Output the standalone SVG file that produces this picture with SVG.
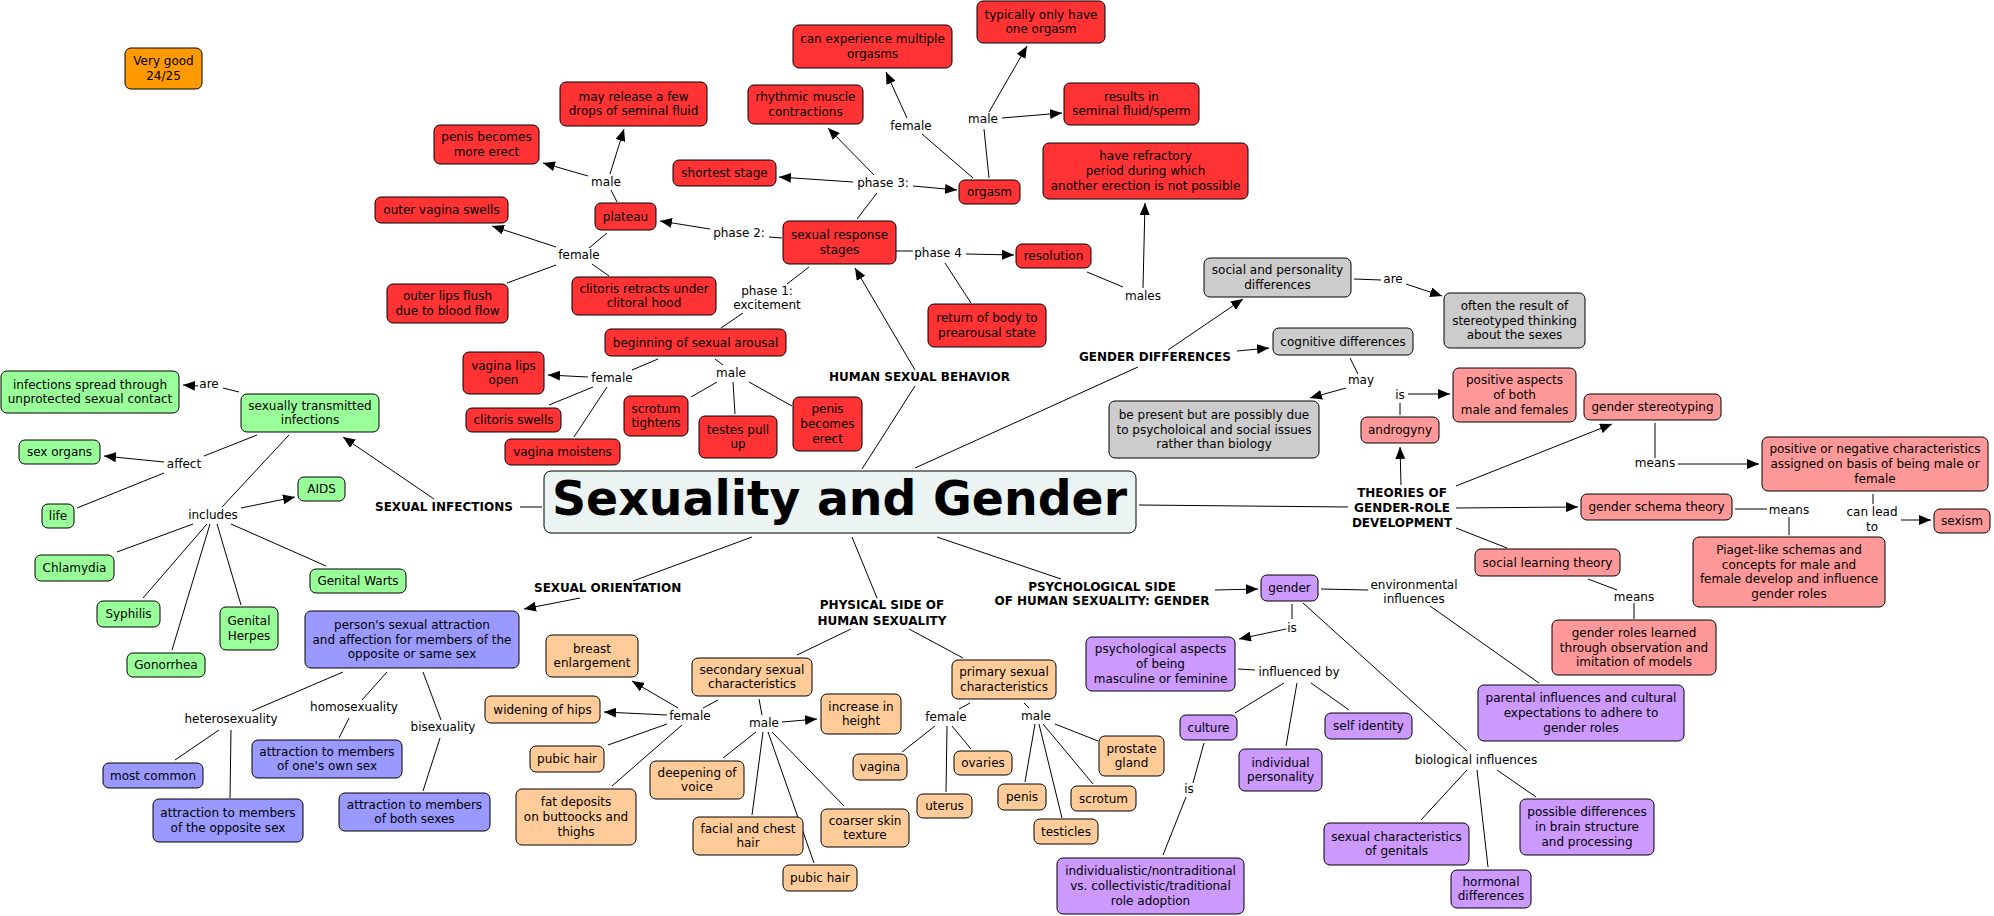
<svg xmlns="http://www.w3.org/2000/svg" width="1994" height="916" viewBox="0 0 1994 916">
<style>
g > rect{stroke:#000;stroke-width:1;}
.red{fill:#FF3333}.grn{fill:#99FF99}.blu{fill:#9999FF}.pch{fill:#FFCC99}.pur{fill:#CC99FF}.pnk{fill:#FF9999}.gry{fill:#CCCCCC}.org{fill:#FF9900}.ctr{fill:#EBF3F3}
text{font-family:"DejaVu Sans","Verdana",sans-serif;font-size:12px;fill:#000;text-anchor:middle}
.b{font-weight:bold}
.s{text-anchor:start}
#connectors line{stroke:#000;stroke-width:1}
#connectors line.a{marker-end:url(#arr)}
</style>
<defs>
<marker id="arr" viewBox="0 0 12 10" refX="12" refY="5" markerWidth="12" markerHeight="10" markerUnits="userSpaceOnUse" orient="auto"><path d="M0,0 L12,5 L0,10 z" fill="#000"/></marker>
</defs>
<rect x="0" y="0" width="1994" height="916" fill="#fff" style="stroke:none"/>
<g id="connectors">
<line x1="617" y1="202" x2="611" y2="190"/>
<line class="a" x1="588" y1="176" x2="543" y2="163"/>
<line class="a" x1="610" y1="174" x2="624" y2="129"/>
<line x1="782" y1="238" x2="769" y2="237"/>
<line class="a" x1="710" y1="229" x2="660" y2="221"/>
<line x1="607" y1="233" x2="589" y2="248"/>
<line class="a" x1="556" y1="247" x2="492" y2="226"/>
<line x1="556" y1="265" x2="507" y2="283"/>
<line x1="592" y1="264" x2="609" y2="276"/>
<line x1="857" y1="219" x2="877" y2="193"/>
<line class="a" x1="853" y1="182" x2="779" y2="177"/>
<line class="a" x1="874" y1="175" x2="828" y2="128"/>
<line class="a" x1="913" y1="186" x2="957" y2="190"/>
<line x1="973" y1="178" x2="922" y2="134"/>
<line class="a" x1="907" y1="118" x2="886" y2="72"/>
<line x1="989" y1="178" x2="984" y2="129"/>
<line class="a" x1="989" y1="112" x2="1027" y2="46"/>
<line class="a" x1="1002" y1="118" x2="1062" y2="113"/>
<line x1="896" y1="251" x2="913" y2="251"/>
<line class="a" x1="966" y1="254" x2="1014" y2="255"/>
<line x1="945" y1="263" x2="971" y2="303"/>
<line x1="809" y1="267" x2="787" y2="284"/>
<line x1="743" y1="313" x2="721" y2="328"/>
<line class="a" x1="915" y1="370" x2="855" y2="268"/>
<line x1="915" y1="386" x2="862" y2="469"/>
<line x1="1087" y1="272" x2="1123" y2="287"/>
<line class="a" x1="1143" y1="288" x2="1145" y2="203"/>
<line x1="1354" y1="279" x2="1381" y2="280"/>
<line class="a" x1="1406" y1="284" x2="1442" y2="296"/>
<line x1="915" y1="468" x2="1138" y2="367"/>
<line class="a" x1="1168" y1="350" x2="1243" y2="299"/>
<line class="a" x1="1237" y1="351" x2="1269" y2="348"/>
<line x1="1350" y1="358" x2="1358" y2="374"/>
<line class="a" x1="1346" y1="388" x2="1310" y2="398"/>
<line class="a" x1="1401" y1="485" x2="1400" y2="447"/>
<line x1="1400" y1="415" x2="1400" y2="403"/>
<line class="a" x1="1408" y1="394" x2="1450" y2="394"/>
<line x1="1139" y1="505" x2="1348" y2="507"/>
<line class="a" x1="1456" y1="486" x2="1612" y2="424"/>
<line class="a" x1="1456" y1="508" x2="1578" y2="507"/>
<line x1="1456" y1="528" x2="1507" y2="548"/>
<line x1="1655" y1="423" x2="1655" y2="458"/>
<line class="a" x1="1678" y1="464" x2="1759" y2="464"/>
<line x1="1735" y1="509" x2="1767" y2="509"/>
<line x1="1789" y1="517" x2="1789" y2="535"/>
<line x1="1873" y1="494" x2="1873" y2="504"/>
<line class="a" x1="1901" y1="520" x2="1931" y2="520"/>
<line x1="1588" y1="579" x2="1617" y2="590"/>
<line x1="1634" y1="603" x2="1634" y2="619"/>
<line x1="937" y1="537" x2="1061" y2="579"/>
<line class="a" x1="1215" y1="590" x2="1258" y2="589"/>
<line x1="1321" y1="589" x2="1368" y2="590"/>
<line x1="1430" y1="606" x2="1539" y2="683"/>
<line x1="1303" y1="603" x2="1467" y2="751"/>
<line x1="1292" y1="604" x2="1292" y2="619"/>
<line class="a" x1="1286" y1="629" x2="1239" y2="639"/>
<line x1="1238" y1="669" x2="1255" y2="670"/>
<line x1="1284" y1="683" x2="1235" y2="713"/>
<line x1="1297" y1="683" x2="1286" y2="746"/>
<line x1="1311" y1="683" x2="1349" y2="710"/>
<line x1="1204" y1="743" x2="1193" y2="783"/>
<line x1="1186" y1="797" x2="1163" y2="855"/>
<line x1="1467" y1="770" x2="1421" y2="820"/>
<line x1="1477" y1="770" x2="1488" y2="867"/>
<line x1="1497" y1="770" x2="1536" y2="797"/>
<line x1="970" y1="703" x2="959" y2="709"/>
<line x1="1024" y1="703" x2="1029" y2="708"/>
<line x1="1055" y1="724" x2="1098" y2="741"/>
<line x1="1035" y1="724" x2="1025" y2="782"/>
<line x1="1039" y1="724" x2="1062" y2="818"/>
<line x1="1043" y1="724" x2="1093" y2="784"/>
<line x1="935" y1="726" x2="902" y2="752"/>
<line x1="947" y1="726" x2="946" y2="792"/>
<line x1="952" y1="726" x2="971" y2="749"/>
<line x1="851" y1="629" x2="797" y2="655"/>
<line x1="909" y1="629" x2="963" y2="658"/>
<line x1="852" y1="537" x2="877" y2="598"/>
<line x1="718" y1="700" x2="703" y2="708"/>
<line class="a" x1="678" y1="708" x2="632" y2="681"/>
<line class="a" x1="667" y1="715" x2="604" y2="712"/>
<line x1="667" y1="724" x2="608" y2="745"/>
<line x1="682" y1="725" x2="612" y2="786"/>
<line x1="759" y1="699" x2="762" y2="715"/>
<line class="a" x1="782" y1="722" x2="817" y2="719"/>
<line x1="756" y1="732" x2="723" y2="758"/>
<line x1="763" y1="732" x2="752" y2="815"/>
<line x1="768" y1="732" x2="814" y2="863"/>
<line x1="772" y1="732" x2="844" y2="806"/>
<line x1="752" y1="537" x2="633" y2="581"/>
<line class="a" x1="580" y1="598" x2="524" y2="609"/>
<line x1="343" y1="672" x2="252" y2="711"/>
<line x1="219" y1="730" x2="175" y2="760"/>
<line x1="231" y1="730" x2="230" y2="798"/>
<line x1="387" y1="672" x2="362" y2="700"/>
<line x1="349" y1="718" x2="339" y2="738"/>
<line x1="423" y1="672" x2="441" y2="720"/>
<line x1="440" y1="738" x2="423" y2="791"/>
<line x1="239" y1="392" x2="223" y2="388"/>
<line class="a" x1="198" y1="386" x2="183" y2="385"/>
<line x1="257" y1="435" x2="204" y2="456"/>
<line class="a" x1="164" y1="462" x2="104" y2="456"/>
<line x1="164" y1="473" x2="77" y2="508"/>
<line x1="289" y1="435" x2="222" y2="507"/>
<line class="a" x1="241" y1="508" x2="295" y2="497"/>
<line x1="193" y1="524" x2="117" y2="552"/>
<line x1="207" y1="524" x2="143" y2="598"/>
<line x1="210" y1="524" x2="172" y2="650"/>
<line x1="217" y1="524" x2="241" y2="605"/>
<line x1="231" y1="524" x2="326" y2="566"/>
<line class="a" x1="434" y1="499" x2="343" y2="437"/>
<line x1="520" y1="507" x2="542" y2="507"/>
<line x1="658" y1="359" x2="632" y2="370"/>
<line class="a" x1="588" y1="377" x2="548" y2="375"/>
<line x1="593" y1="387" x2="549" y2="405"/>
<line x1="607" y1="387" x2="574" y2="437"/>
<line x1="715" y1="359" x2="723" y2="365"/>
<line x1="717" y1="382" x2="691" y2="397"/>
<line x1="733" y1="382" x2="735" y2="414"/>
<line x1="749" y1="382" x2="792" y2="406"/>
</g>
<g id="labels">
<text x="606" y="186">male</text>
<text x="911" y="130">female</text>
<text x="983" y="123">male</text>
<text x="883" y="187">phase 3:</text>
<text x="739" y="237">phase 2:</text>
<text x="579" y="259">female</text>
<text x="938" y="257">phase 4</text>
<text x="767" y="295">phase 1:</text>
<text x="767" y="309">excitement</text>
<text x="1143" y="300">males</text>
<text x="1393" y="283">are</text>
<text x="209" y="388">are</text>
<text x="184" y="468">affect</text>
<text x="213" y="519">includes</text>
<text x="612" y="382">female</text>
<text x="731" y="377">male</text>
<text x="1361" y="384">may</text>
<text x="1400" y="399">is</text>
<text x="1655" y="467">means</text>
<text x="1789" y="514">means</text>
<text x="1872" y="516">can lead</text>
<text x="1872" y="531">to</text>
<text x="1634" y="601">means</text>
<text x="1414" y="589">environmental</text>
<text x="1414" y="603">influences</text>
<text x="1292" y="632">is</text>
<text x="1299" y="676">influenced by</text>
<text x="1189" y="793">is</text>
<text x="1476" y="764">biological influences</text>
<text x="231" y="723">heterosexuality</text>
<text x="354" y="711">homosexuality</text>
<text x="443" y="731">bisexuality</text>
<text x="690" y="720">female</text>
<text x="764" y="727">male</text>
<text x="946" y="721">female</text>
<text x="1036" y="720">male</text>
<text class="b s" x="375" y="511">SEXUAL INFECTIONS</text>
<text class="b s" x="829" y="381">HUMAN SEXUAL BEHAVIOR</text>
<text class="b s" x="1079" y="361">GENDER DIFFERENCES</text>
<text class="b" x="1402" y="497">THEORIES OF</text>
<text class="b" x="1402" y="512">GENDER-ROLE</text>
<text class="b" x="1402" y="527">DEVELOPMENT</text>
<text class="b s" x="534" y="592">SEXUAL ORIENTATION</text>
<text class="b" x="882" y="609">PHYSICAL SIDE OF</text>
<text class="b" x="882" y="625">HUMAN SEXUALITY</text>
<text class="b" x="1102" y="591">PSYCHOLOGICAL SIDE</text>
<text class="b" x="1102" y="605">OF HUMAN SEXUALITY: GENDER</text>
</g>
<g id="verygood"><rect class="org" x="125" y="48" width="77" height="41" rx="6"/><text x="163.5" y="65.2">Very good</text><text x="163.5" y="79.8">24/25</text></g>
<g id="penis-more-erect"><rect class="red" x="434" y="125" width="105" height="39" rx="6"/><text x="486.5" y="141.2">penis becomes</text><text x="486.5" y="155.8">more erect</text></g>
<g id="may-release"><rect class="red" x="560" y="82" width="147" height="44" rx="6"/><text x="633.5" y="100.7">may release a few</text><text x="633.5" y="115.3">drops of seminal fluid</text></g>
<g id="can-experience"><rect class="red" x="793" y="25" width="159" height="43" rx="6"/><text x="872.5" y="43.2">can experience multiple</text><text x="872.5" y="57.8">orgasms</text></g>
<g id="typically"><rect class="red" x="977" y="1" width="128" height="42" rx="6"/><text x="1041" y="18.7">typically only have</text><text x="1041" y="33.3">one orgasm</text></g>
<g id="rhythmic"><rect class="red" x="748" y="85" width="115" height="39" rx="6"/><text x="805.5" y="101.2">rhythmic muscle</text><text x="805.5" y="115.8">contractions</text></g>
<g id="results"><rect class="red" x="1064" y="83" width="135" height="42" rx="6"/><text x="1131.5" y="100.7">results in</text><text x="1131.5" y="115.3">seminal fluid/sperm</text></g>
<g id="shortest"><rect class="red" x="673" y="160" width="103" height="26" rx="6"/><text x="724.5" y="177">shortest stage</text></g>
<g id="orgasm"><rect class="red" x="959" y="180" width="61" height="24" rx="6"/><text x="989.5" y="196">orgasm</text></g>
<g id="refractory"><rect class="red" x="1043" y="143" width="205" height="56" rx="6"/><text x="1145.5" y="160.4">have refractory</text><text x="1145.5" y="175">period during which</text><text x="1145.5" y="189.6">another erection is not possible</text></g>
<g id="plateau"><rect class="red" x="595" y="203" width="61" height="27" rx="6"/><text x="625.5" y="220.5">plateau</text></g>
<g id="sexual-response"><rect class="red" x="783" y="221" width="113" height="43" rx="6"/><text x="839.5" y="239.2">sexual response</text><text x="839.5" y="253.8">stages</text></g>
<g id="outer-vagina"><rect class="red" x="375" y="197" width="133" height="26" rx="6"/><text x="441.5" y="214">outer vagina swells</text></g>
<g id="outer-lips"><rect class="red" x="387" y="284" width="121" height="39" rx="6"/><text x="447.5" y="300.2">outer lips flush</text><text x="447.5" y="314.8">due to blood flow</text></g>
<g id="clitoris-retracts"><rect class="red" x="572" y="277" width="144" height="38" rx="6"/><text x="644" y="292.7">clitoris retracts under</text><text x="644" y="307.3">clitoral hood</text></g>
<g id="resolution"><rect class="red" x="1016" y="244" width="75" height="24" rx="6"/><text x="1053.5" y="260">resolution</text></g>
<g id="return-body"><rect class="red" x="928" y="304" width="118" height="43" rx="6"/><text x="987" y="322.2">return of body to</text><text x="987" y="336.8">prearousal state</text></g>
<g id="social-personality"><rect class="gry" x="1204" y="258" width="147" height="39" rx="6"/><text x="1277.5" y="274.2">social and personality</text><text x="1277.5" y="288.8">differences</text></g>
<g id="often-result"><rect class="gry" x="1444" y="293" width="141" height="55" rx="6"/><text x="1514.5" y="309.9">often the result of</text><text x="1514.5" y="324.5">stereotyped thinking</text><text x="1514.5" y="339.1">about the sexes</text></g>
<g id="beginning"><rect class="red" x="605" y="329" width="181" height="27" rx="6"/><text x="695.5" y="346.5">beginning of sexual arousal</text></g>
<g id="vagina-lips"><rect class="red" x="463" y="352" width="81" height="42" rx="6"/><text x="503.5" y="369.7">vagina lips</text><text x="503.5" y="384.3">open</text></g>
<g id="clitoris-swells"><rect class="red" x="466" y="408" width="95" height="24" rx="6"/><text x="513.5" y="424">clitoris swells</text></g>
<g id="vagina-moistens"><rect class="red" x="505" y="439" width="115" height="26" rx="6"/><text x="562.5" y="456">vagina moistens</text></g>
<g id="scrotum-tightens"><rect class="red" x="624" y="396" width="64" height="40" rx="6"/><text x="656" y="412.7">scrotum</text><text x="656" y="427.3">tightens</text></g>
<g id="testes"><rect class="red" x="699" y="416" width="78" height="42" rx="6"/><text x="738" y="433.7">testes pull</text><text x="738" y="448.3">up</text></g>
<g id="penis-erect"><rect class="red" x="793" y="397" width="69" height="54" rx="6"/><text x="827.5" y="413.4">penis</text><text x="827.5" y="428">becomes</text><text x="827.5" y="442.6">erect</text></g>
<g id="central"><rect class="ctr" x="544" y="471" width="592" height="62" rx="7"/><text class="b s" x="552" y="515" style="font-size:48px" textLength="575" lengthAdjust="spacingAndGlyphs">Sexuality and Gender</text></g>
<g id="sti"><rect class="grn" x="241" y="394" width="138" height="38" rx="6"/><text x="310" y="409.7">sexually transmitted</text><text x="310" y="424.3">infections</text></g>
<g id="infections-spread"><rect class="grn" x="1" y="371" width="178" height="42" rx="6"/><text x="90" y="388.7">infections spread through</text><text x="90" y="403.3">unprotected sexual contact</text></g>
<g id="sex-organs"><rect class="grn" x="19" y="440" width="81" height="24" rx="6"/><text x="59.5" y="456">sex organs</text></g>
<g id="life"><rect class="grn" x="42" y="504" width="32" height="24" rx="6"/><text x="58" y="520">life</text></g>
<g id="aids"><rect class="grn" x="298" y="477" width="47" height="24" rx="6"/><text x="321.5" y="493">AIDS</text></g>
<g id="chlamydia"><rect class="grn" x="35" y="555" width="79" height="26" rx="6"/><text x="74.5" y="572">Chlamydia</text></g>
<g id="genital-warts"><rect class="grn" x="310" y="569" width="96" height="24" rx="6"/><text x="358" y="585">Genital Warts</text></g>
<g id="syphilis"><rect class="grn" x="97" y="601" width="63" height="26" rx="6"/><text x="128.5" y="618">Syphilis</text></g>
<g id="genital-herpes"><rect class="grn" x="220" y="607" width="58" height="43" rx="6"/><text x="249" y="625.2">Genital</text><text x="249" y="639.8">Herpes</text></g>
<g id="gonorrhea"><rect class="grn" x="127" y="653" width="78" height="24" rx="6"/><text x="166" y="669">Gonorrhea</text></g>
<g id="cognitive"><rect class="gry" x="1273" y="328" width="140" height="27" rx="6"/><text x="1343" y="345.5">cognitive differences</text></g>
<g id="be-present"><rect class="gry" x="1109" y="401" width="210" height="57" rx="6"/><text x="1214" y="418.9">be present but are possibly due</text><text x="1214" y="433.5">to psycholoical and social issues</text><text x="1214" y="448.1">rather than biology</text></g>
<g id="androgyny"><rect class="pnk" x="1361" y="417" width="78" height="26" rx="6"/><text x="1400" y="434">androgyny</text></g>
<g id="positive-aspects"><rect class="pnk" x="1453" y="368" width="123" height="54" rx="6"/><text x="1514.5" y="384.4">positive aspects</text><text x="1514.5" y="399">of both</text><text x="1514.5" y="413.6">male and females</text></g>
<g id="gender-stereotyping"><rect class="pnk" x="1584" y="394" width="137" height="26" rx="6"/><text x="1652.5" y="411">gender stereotyping</text></g>
<g id="pos-neg"><rect class="pnk" x="1762" y="437" width="226" height="54" rx="6"/><text x="1875" y="453.4">positive or negative characteristics</text><text x="1875" y="468">assigned on basis of being male or</text><text x="1875" y="482.6">female</text></g>
<g id="gender-schema"><rect class="pnk" x="1581" y="494" width="151" height="26" rx="6"/><text x="1656.5" y="511">gender schema theory</text></g>
<g id="sexism"><rect class="pnk" x="1934" y="509" width="56" height="24" rx="6"/><text x="1962" y="525">sexism</text></g>
<g id="piaget"><rect class="pnk" x="1693" y="537" width="192" height="70" rx="6"/><text x="1789" y="554.1">Piaget-like schemas and</text><text x="1789" y="568.7">concepts for male and</text><text x="1789" y="583.3">female develop and influence</text><text x="1789" y="597.9">gender roles</text></g>
<g id="social-learning"><rect class="pnk" x="1475" y="549" width="145" height="27" rx="6"/><text x="1547.5" y="566.5">social learning theory</text></g>
<g id="gender-roles-learned"><rect class="pnk" x="1552" y="620" width="164" height="55" rx="6"/><text x="1634" y="636.9">gender roles learned</text><text x="1634" y="651.5">through observation and</text><text x="1634" y="666.1">imitation of models</text></g>
<g id="gender"><rect class="pur" x="1261" y="575" width="57" height="26" rx="6"/><text x="1289.5" y="592">gender</text></g>
<g id="psych-aspects"><rect class="pur" x="1086" y="637" width="149" height="54" rx="6"/><text x="1160.5" y="653.4">psychological aspects</text><text x="1160.5" y="668">of being</text><text x="1160.5" y="682.6">masculine or feminine</text></g>
<g id="parental"><rect class="pur" x="1478" y="685" width="206" height="56" rx="6"/><text x="1581" y="702.4">parental influences and cultural</text><text x="1581" y="717">expectations to adhere to</text><text x="1581" y="731.6">gender roles</text></g>
<g id="culture"><rect class="pur" x="1180" y="715" width="57" height="25" rx="6"/><text x="1208.5" y="731.5">culture</text></g>
<g id="self-identity"><rect class="pur" x="1325" y="713" width="87" height="26" rx="6"/><text x="1368.5" y="730">self identity</text></g>
<g id="individual-personality"><rect class="pur" x="1239" y="749" width="83" height="42" rx="6"/><text x="1280.5" y="766.7">individual</text><text x="1280.5" y="781.3">personality</text></g>
<g id="individualistic"><rect class="pur" x="1057" y="858" width="187" height="56" rx="6"/><text x="1150.5" y="875.4">individualistic/nontraditional</text><text x="1150.5" y="890">vs. collectivistic/traditional</text><text x="1150.5" y="904.6">role adoption</text></g>
<g id="sexual-genitals"><rect class="pur" x="1324" y="823" width="145" height="42" rx="6"/><text x="1396.5" y="840.7">sexual characteristics</text><text x="1396.5" y="855.3">of genitals</text></g>
<g id="possible-diff"><rect class="pur" x="1520" y="799" width="134" height="56" rx="6"/><text x="1587" y="816.4">possible differences</text><text x="1587" y="831">in brain structure</text><text x="1587" y="845.6">and processing</text></g>
<g id="hormonal"><rect class="pur" x="1451" y="870" width="80" height="38" rx="6"/><text x="1491" y="885.7">hormonal</text><text x="1491" y="900.3">differences</text></g>
<g id="person-attraction"><rect class="blu" x="305" y="611" width="214" height="57" rx="6"/><text x="412" y="628.9">person's sexual attraction</text><text x="412" y="643.5">and affection for members of the</text><text x="412" y="658.1">opposite or same sex</text></g>
<g id="most-common"><rect class="blu" x="103" y="763" width="100" height="25" rx="6"/><text x="153" y="779.5">most common</text></g>
<g id="opposite-sex"><rect class="blu" x="153" y="799" width="150" height="43" rx="6"/><text x="228" y="817.2">attraction to members</text><text x="228" y="831.8">of the opposite sex</text></g>
<g id="own-sex"><rect class="blu" x="252" y="740" width="150" height="38" rx="6"/><text x="327" y="755.7">attraction to members</text><text x="327" y="770.3">of one's own sex</text></g>
<g id="both-sexes"><rect class="blu" x="339" y="793" width="151" height="38" rx="6"/><text x="414.5" y="808.7">attraction to members</text><text x="414.5" y="823.3">of both sexes</text></g>
<g id="breast"><rect class="pch" x="546" y="635" width="92" height="42" rx="6"/><text x="592" y="652.7">breast</text><text x="592" y="667.3">enlargement</text></g>
<g id="widening"><rect class="pch" x="485" y="696" width="115" height="27" rx="6"/><text x="542.5" y="713.5">widening of hips</text></g>
<g id="pubic-hair-f"><rect class="pch" x="530" y="746" width="74" height="26" rx="6"/><text x="567" y="763">pubic hair</text></g>
<g id="fat-deposits"><rect class="pch" x="516" y="789" width="120" height="56" rx="6"/><text x="576" y="806.4">fat deposits</text><text x="576" y="821">on buttoocks and</text><text x="576" y="835.6">thighs</text></g>
<g id="secondary"><rect class="pch" x="692" y="658" width="120" height="38" rx="6"/><text x="752" y="673.7">secondary sexual</text><text x="752" y="688.3">characteristics</text></g>
<g id="increase"><rect class="pch" x="821" y="694" width="80" height="40" rx="6"/><text x="861" y="710.7">increase in</text><text x="861" y="725.3">height</text></g>
<g id="deepening"><rect class="pch" x="650" y="761" width="94" height="38" rx="6"/><text x="697" y="776.7">deepening of</text><text x="697" y="791.3">voice</text></g>
<g id="facial"><rect class="pch" x="693" y="817" width="110" height="38" rx="6"/><text x="748" y="832.7">facial and chest</text><text x="748" y="847.3">hair</text></g>
<g id="coarser"><rect class="pch" x="821" y="809" width="88" height="38" rx="6"/><text x="865" y="824.7">coarser skin</text><text x="865" y="839.3">texture</text></g>
<g id="pubic-hair-m"><rect class="pch" x="783" y="865" width="74" height="26" rx="6"/><text x="820" y="882">pubic hair</text></g>
<g id="primary"><rect class="pch" x="952" y="660" width="104" height="39" rx="6"/><text x="1004" y="676.2">primary sexual</text><text x="1004" y="690.8">characteristics</text></g>
<g id="vagina"><rect class="pch" x="853" y="754" width="54" height="26" rx="6"/><text x="880" y="771">vagina</text></g>
<g id="ovaries"><rect class="pch" x="954" y="751" width="58" height="24" rx="6"/><text x="983" y="767">ovaries</text></g>
<g id="uterus"><rect class="pch" x="917" y="794" width="55" height="24" rx="6"/><text x="944.5" y="810">uterus</text></g>
<g id="prostate"><rect class="pch" x="1099" y="736" width="65" height="40" rx="6"/><text x="1131.5" y="752.7">prostate</text><text x="1131.5" y="767.3">gland</text></g>
<g id="penis"><rect class="pch" x="998" y="784" width="48" height="26" rx="6"/><text x="1022" y="801">penis</text></g>
<g id="scrotum"><rect class="pch" x="1071" y="786" width="65" height="25" rx="6"/><text x="1103.5" y="802.5">scrotum</text></g>
<g id="testicles"><rect class="pch" x="1034" y="819" width="64" height="25" rx="6"/><text x="1066" y="835.5">testicles</text></g>
</svg>
